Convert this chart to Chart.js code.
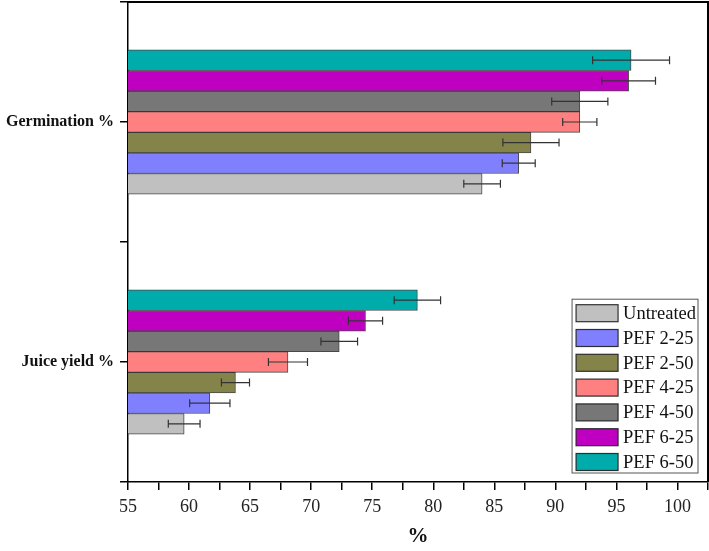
<!DOCTYPE html>
<html>
<head>
<meta charset="utf-8">
<script src="https://cdn.jsdelivr.net/npm/chart.js@4"></script>
<style>
  html, body { margin: 0; padding: 0; background: #fff; }
  canvas { display: block; }
</style>
</head>
<body>
<canvas id="chart" width="709" height="551"></canvas>
<script>
// Category labels and their positions on the (linear) vertical axis
const categories = ['Germination %', 'Juice yield %'];
const categoryPositions = [2, 1];

// Series, in legend order
const seriesNames = ['Untreated', 'PEF 2-25', 'PEF 2-50', 'PEF 4-25', 'PEF 4-50', 'PEF 6-25', 'PEF 6-50'];
const seriesColors = ['#C0C0C0', '#8080FF', '#84844A', '#FF8080', '#777777', '#C000C0', '#00ABAB'];

// Values per series, one array per category
const germination    = [84.0, 87.0, 88.0, 92.0, 92.0, 96.0, 96.2];
const germinationErr = [1.5, 1.35, 2.3, 1.4, 2.3, 2.2, 3.15];
const juiceYield     = [59.6, 61.7, 63.8, 68.1, 72.3, 74.45, 78.7];
const juiceYieldErr  = [1.3, 1.65, 1.15, 1.6, 1.5, 1.4, 1.9];

const xMin = 55, xMax = 102.5, xStep = 2.5;

// build datasets; first dataset is drawn on top of each group, so reverse
const datasets = seriesNames.map((name, i) => ({
    label: name,
    data: [
        { x: germination[i], y: categoryPositions[0] },
        { x: juiceYield[i], y: categoryPositions[1] }
    ],
    errors: [germinationErr[i], juiceYieldErr[i]],
    backgroundColor: seriesColors[i],
    borderColor: 'rgba(40,40,40,0.85)',
    borderWidth: 1,
    borderSkipped: false,
    barThickness: 20.6
})).reverse();

// error bars with caps
const errorBars = {
    id: 'errorBars',
    afterDatasetsDraw(chart) {
        const ctx = chart.ctx;
        const xs = chart.scales.x;
        ctx.save();
        ctx.strokeStyle = '#333';
        ctx.lineWidth = 1.2;
        chart.data.datasets.forEach((ds, di) => {
            const meta = chart.getDatasetMeta(di);
            meta.data.forEach((bar, i) => {
                const v = ds.data[i].x, e = ds.errors[i];
                const x1 = xs.getPixelForValue(v - e);
                const x2 = xs.getPixelForValue(v + e);
                const y = bar.y;
                ctx.beginPath();
                ctx.moveTo(x1, y); ctx.lineTo(x2, y);
                ctx.moveTo(x1, y - 4); ctx.lineTo(x1, y + 4);
                ctx.moveTo(x2, y - 4); ctx.lineTo(x2, y + 4);
                ctx.stroke();
            });
        });
        ctx.restore();
    }
};

// frame around the plot and a boxed legend in the lower right
const frameAndLegend = {
    id: 'frameAndLegend',
    afterDraw(chart) {
        const { ctx, chartArea } = chart;
        const xs = chart.scales.x, ys = chart.scales.y;
        const left = xs.getPixelForValue(xMin), right = xs.getPixelForValue(xMax);
        const top = ys.getPixelForValue(ys.max), bottom = ys.getPixelForValue(ys.min);
        ctx.save();
        ctx.strokeStyle = '#000';
        ctx.lineWidth = 2;
        ctx.beginPath();
        ctx.moveTo(left, top); ctx.lineTo(right, top);
        ctx.lineTo(right, bottom);
        ctx.stroke();

        // legend
        ctx.font = '18.5px "Liberation Serif"';
        const rowH = 24.8, swW = 42, swH = 17, gap = 5;
        const textW = Math.max(...seriesNames.map(n => ctx.measureText(n).width));
        const w = 4 + swW + gap + textW + 2;
        const h = 14 + 11 + rowH * (seriesNames.length - 1);
        const x = chartArea.right - 10 - w;
        const y = chartArea.bottom - 9 - h;
        ctx.fillStyle = '#fff';
        ctx.fillRect(x, y, w, h);
        ctx.strokeStyle = '#555';
        ctx.lineWidth = 1;
        ctx.strokeRect(x, y, w, h);
        ctx.textBaseline = 'middle';
        seriesNames.forEach((name, i) => {
            const cy = y + 14 + i * rowH;
            ctx.fillStyle = seriesColors[i];
            ctx.fillRect(x + 4, cy - swH / 2, swW, swH);
            ctx.strokeStyle = 'rgba(30,30,30,0.9)';
            ctx.lineWidth = 1.2;
            ctx.strokeRect(x + 4, cy - swH / 2, swW, swH);
            ctx.fillStyle = '#111';
            ctx.fillText(name, x + 4 + swW + gap, cy + 1);
        });
        ctx.restore();
    }
};

new Chart(document.getElementById('chart'), {
    type: 'bar',
    data: { datasets },
    plugins: [errorBars, frameAndLegend],
    options: {
        indexAxis: 'y',
        responsive: false,
        animation: false,
        layout: { padding: { top: 2, right: 1, left: 0, bottom: 0 } },
        plugins: {
            legend: { display: false },
            tooltip: { enabled: false }
        },
        scales: {
            x: {
                type: 'linear',
                min: xMin,
                max: xMax,
                beginAtZero: false,
                grid: { drawOnChartArea: false, drawTicks: true, tickLength: 8, color: '#000', lineWidth: 1.5 },
                border: { display: true, color: '#000', width: 1.5 },
                ticks: {
                    stepSize: xStep,
                    autoSkip: false,
                    maxRotation: 0,
                    padding: 6,
                    color: '#222',
                    font: { family: '"Liberation Serif"', size: 18 },
                    callback: (v) => (v % 5 === 0 ? v : '')
                },
                title: {
                    display: true,
                    text: '%',
                    color: '#111',
                    font: { family: '"Liberation Serif"', size: 21, weight: 'bold' },
                    padding: { top: 0, bottom: 2 }
                },
                afterFit: (scale) => { scale.height = 69; scale.paddingRight = 0; scale.paddingLeft = 0; }
            },
            y: {
                type: 'linear',
                min: 0.5,
                max: 2.5,
                offset: false,
                grid: { drawOnChartArea: false, drawTicks: true, tickLength: 8, color: '#000', lineWidth: 1.5, offset: false },
                border: { display: true, color: '#000', width: 1.5 },
                ticks: {
                    stepSize: 0.5,
                    autoSkip: false,
                    padding: 6,
                    color: '#111',
                    font: { family: '"Liberation Serif"', size: 16, weight: 'bold' },
                    callback: (v) => {
                        const k = categoryPositions.indexOf(v);
                        return k >= 0 ? categories[k] : '';
                    }
                },
                afterFit: (scale) => { scale.width = 128; scale.paddingTop = 0; scale.paddingBottom = 0; }
            }
        }
    }
});
</script>
</body>
</html>
